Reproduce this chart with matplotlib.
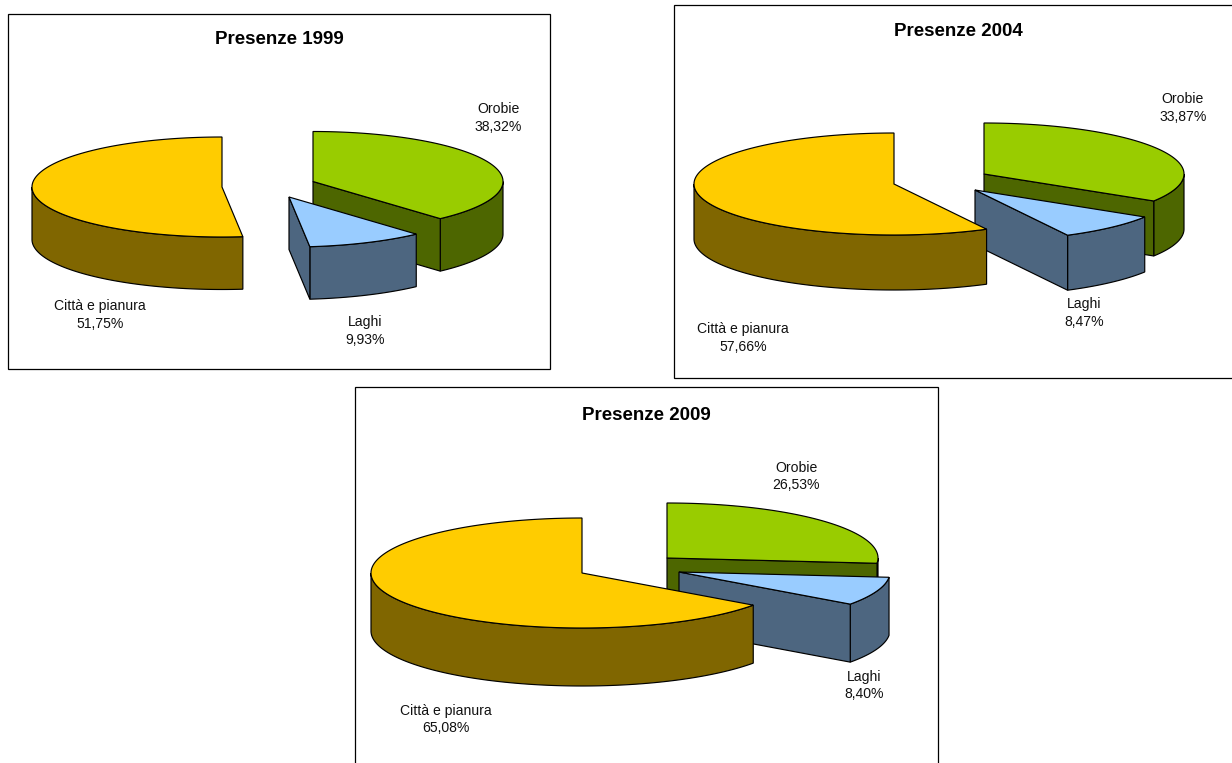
import numpy as np
import matplotlib
matplotlib.use("Agg")
import matplotlib.pyplot as plt
from matplotlib.patches import Polygon, Rectangle

plt.rcParams['font.family'] = ['Liberation Sans', 'DejaVu Sans']

years = [1999, 2004, 2009]
zones = ['Orobie', 'Laghi', 'Città e pianura']
shares_1999 = [38.32, 9.93, 51.75]
shares_2004 = [33.87, 8.47, 57.66]
shares_2009 = [26.53, 8.40, 65.08]
shares = [shares_1999, shares_2004, shares_2009]

top_colors = ['#99CC00', '#99CCFF', '#FFCC00']
side_colors = ['#4D6600', '#4D6680', '#806600']

# frame (x0, y0, x1, y1), ellipse radii, thickness
frames = [(8, 14, 550, 369), (674, 5, 1240, 378), (355, 387, 937.5, 775)]
radii = [(190, 50), (200, 51), (211, 55)]
depths = [52.5, 55, 58]
# exploded apex of each slice
apexes = [
    [(313, 181.5), (289, 197), (222, 187)],
    [(984, 174), (975, 190), (894, 184)],
    [(667, 558), (679, 572), (582, 573)],
]
title_pos = [(279, 40), (958, 31.5), (646, 416)]
# two-line label centres
label_pos = [
    [(498, 118), (365, 331), (100, 315)],
    [(1183, 108), (1084, 313), (743, 338)],
    [(796, 476.5), (864, 685.5), (446, 719.5)],
]

fig = plt.figure(figsize=(12.32, 7.63), dpi=100)
ax = fig.add_axes([0, 0, 1, 1])
ax.set_xlim(0, 1232)
ax.set_ylim(763, 0)
ax.axis('off')


def rim(c, rx, ry, t0, t1, dy=0):
    # angles clockwise from the top of the ellipse
    t = np.radians(np.linspace(t0, t1, max(int(abs(t1 - t0)) * 2, 2)))
    return np.column_stack([c[0] + rx * np.sin(t), c[1] + dy - ry * np.cos(t)])


def draw_slice(c, rx, ry, d, t0, t1, top, side):
    lw = 0.85
    # outer wall, only the part facing the viewer
    a, b = max(t0, 90), min(t1, 270)
    if b > a:
        upper = rim(c, rx, ry, a, b)
        lower = rim(c, rx, ry, b, a, d)
        ax.add_patch(Polygon(np.vstack([upper, lower]), fc=side, ec='black', lw=lw))
    # cut face at the end of the slice
    if t1 < 180:
        p = rim(c, rx, ry, t1, t1)[0]
        wall = [c, p, (p[0], p[1] + d), (c[0], c[1] + d)]
        ax.add_patch(Polygon(wall, fc=side, ec='black', lw=lw))
    pts = np.vstack([[c], rim(c, rx, ry, t0, t1)])
    ax.add_patch(Polygon(pts, fc=top, ec='black', lw=lw))


for i, year in enumerate(years):
    x0, y0, x1, y1 = frames[i]
    ax.add_patch(Rectangle((x0, y0), x1 - x0, y1 - y0, fc='white', ec='black', lw=0.9))

    rx, ry = radii[i]
    start = 0
    for j in range(3):
        end = min(start + shares[i][j] * 3.6, 360)
        draw_slice(apexes[i][j], rx, ry, depths[i], start, end, top_colors[j], side_colors[j])
        pct = f'{shares[i][j]:.2f}'.replace('.', ',') + '%'
        ax.text(label_pos[i][j][0], label_pos[i][j][1], zones[j] + '\n' + pct,
                ha='center', va='center', fontsize=10.1, linespacing=1.3, color='#111111')
        start = end

    ax.text(title_pos[i][0], title_pos[i][1], f'Presenze {year}', ha='center', va='center',
            fontsize=13.5, fontweight='bold', color='black')

fig.savefig('out.png', dpi=100)
